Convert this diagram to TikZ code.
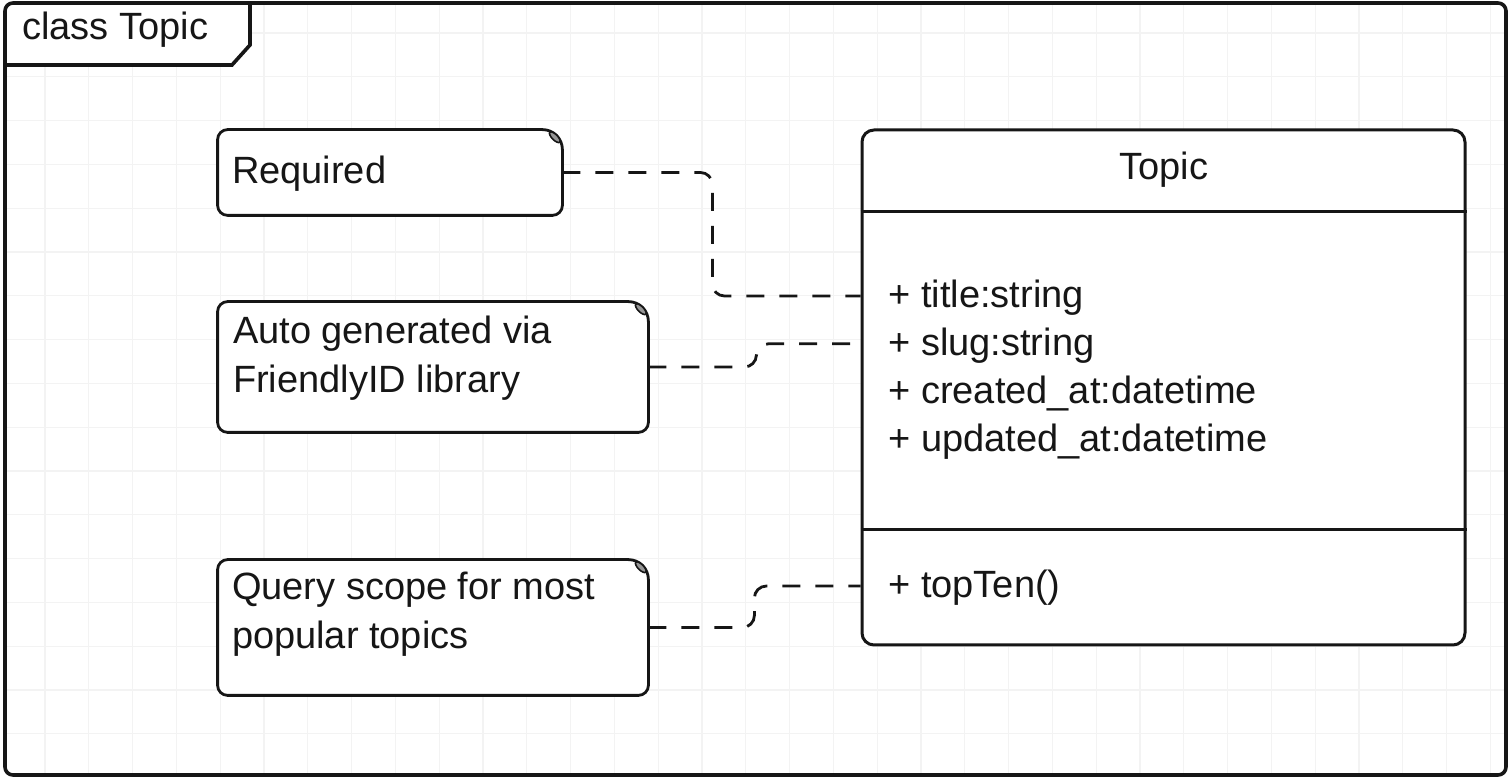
\documentclass[tikz,border=0pt]{standalone}
\usepackage{fontspec}
\setmainfont{Liberation Sans}
\usetikzlibrary{positioning}
\definecolor{inkblack}{RGB}{22,22,22}
\definecolor{gridgray}{RGB}{243,243,243}
\definecolor{foldgray}{RGB}{150,150,150}
\tikzset{
  umltext/.style={inner sep=0pt, text=inkblack, font=\fontsize{19}{24.5}\selectfont},
  frameline/.style={draw=inkblack, line width=1.8pt},
  gridline/.style={draw=gridgray, line width=0.6pt},
  notebox/.style={rectangle, inner sep=0pt, fill=white},
  notetext/.style={umltext, align=left, anchor=base west},
  classbox/.style={
    rectangle, draw=inkblack, line width=1.5pt, fill=white, rounded corners=6pt, inner sep=0pt
  },
  member/.style={umltext, text height=15pt, text depth=3pt},
  notelink/.style={
    draw=inkblack, line width=1.4pt, dash pattern=on 9pt off 7.5pt, rounded corners=6pt
  }
}
% note outline, bigger top right corner with a small fold
\newcommand{\noteoutline}[1]{%
  \draw[draw=inkblack, line width=1.4pt] (#1.west) [rounded corners=5pt] -- (#1.north west)
    [rounded corners=10pt] -- (#1.north east) [rounded corners=5pt] -- (#1.south east)
    -- (#1.south west) -- cycle;
  \draw[draw=inkblack, line width=0.8pt, fill=foldgray]
    ([shift={(-3.8pt,-3.8pt)}]#1.north east) ellipse [x radius=3.5pt, y radius=1.4pt, rotate=-45];
}

\begin{document}
\begin{tikzpicture}[x=0.5pt, y=-0.5pt]
  \useasboundingbox (0,0) rectangle (1511,779);
  \fill[white] (0,0) rectangle (1511,779);

  % background grid
  \foreach \gx in {45,88.8,...,1500}
    \draw[gridline] (\gx,5) -- (\gx,773);
  \foreach \gy in {33,76.8,...,770}
    \draw[gridline] (7,\gy) -- (1504,\gy);

  % frame with its name tab
  \fill[white] (5,3) -- (250,3) -- (250,45) -- (232,65) -- (5,65) -- cycle;
  \draw[frameline] (5,65) -- (232,65) -- (250,45) -- (250,3);
  \draw[frameline, rounded corners=4pt] (5,3) rectangle (1506,775);
  \node[umltext, anchor=base west] (frameName) at (22,40) {class Topic};

  % notes
  \node[notebox, minimum width=172pt, minimum height=42.5pt] (required) at (390,172.5) {};
  \node[notebox, minimum width=215pt, minimum height=65pt] (autogen) at (433,367) {};
  \node[notebox, minimum width=215pt, minimum height=67.5pt] (scope) at (433,627.5) {};
  \noteoutline{required}
  \noteoutline{autogen}
  \noteoutline{scope}
  \node[notetext] (requiredText) at ([shift={(7pt,-27.2pt)}]required.north west) {Required};
  \node[notetext] (autogenText) at ([shift={(7.5pt,-45.5pt)}]autogen.north west) {Auto generated via\\FriendlyID library};
  \node[notetext] (scopeText) at ([shift={(7pt,-44.5pt)}]scope.north west) {Query scope for most\\popular topics};

  % class Topic
  \node[classbox, minimum width=301.5pt, minimum height=257.5pt] (topic) at (1163.5,387.5) {};
  \coordinate (headSplit) at (0,212);
  \coordinate (opSplit) at (0,530);
  \draw[frameline, line width=1.5pt] (topic.west |- headSplit) -- (topic.east |- headSplit);
  \draw[frameline, line width=1.5pt] (topic.west |- opSplit) -- (topic.east |- opSplit);
  \node[umltext, anchor=base] (topicName) at (1164,180) {Topic};
  \node[member, anchor=base west] (attrTitle) at (888,308) {+ title:string};
  \node[member, below right=5.5pt and 0pt of attrTitle.south west] (attrSlug) {+ slug:string};
  \node[member, below right=5.5pt and 0pt of attrSlug.south west] (attrCreated) {+ created\_at:datetime};
  \node[member, below right=5.5pt and 0pt of attrCreated.south west] (attrUpdated) {+ updated\_at:datetime};
  \node[member, anchor=base west] (opTopTen) at (888,598) {+ topTen()};

  % links from notes
  \draw[notelink] (required.east) -- ++(150,0) |- (topic.west |- attrTitle);
  \draw[notelink] (autogen.east) -- ++(108,0) |- (topic.west |- attrSlug);
  \draw[notelink] (scope.east) -- ++(106,0) |- (topic.west |- opTopTen);
\end{tikzpicture}
\end{document}
